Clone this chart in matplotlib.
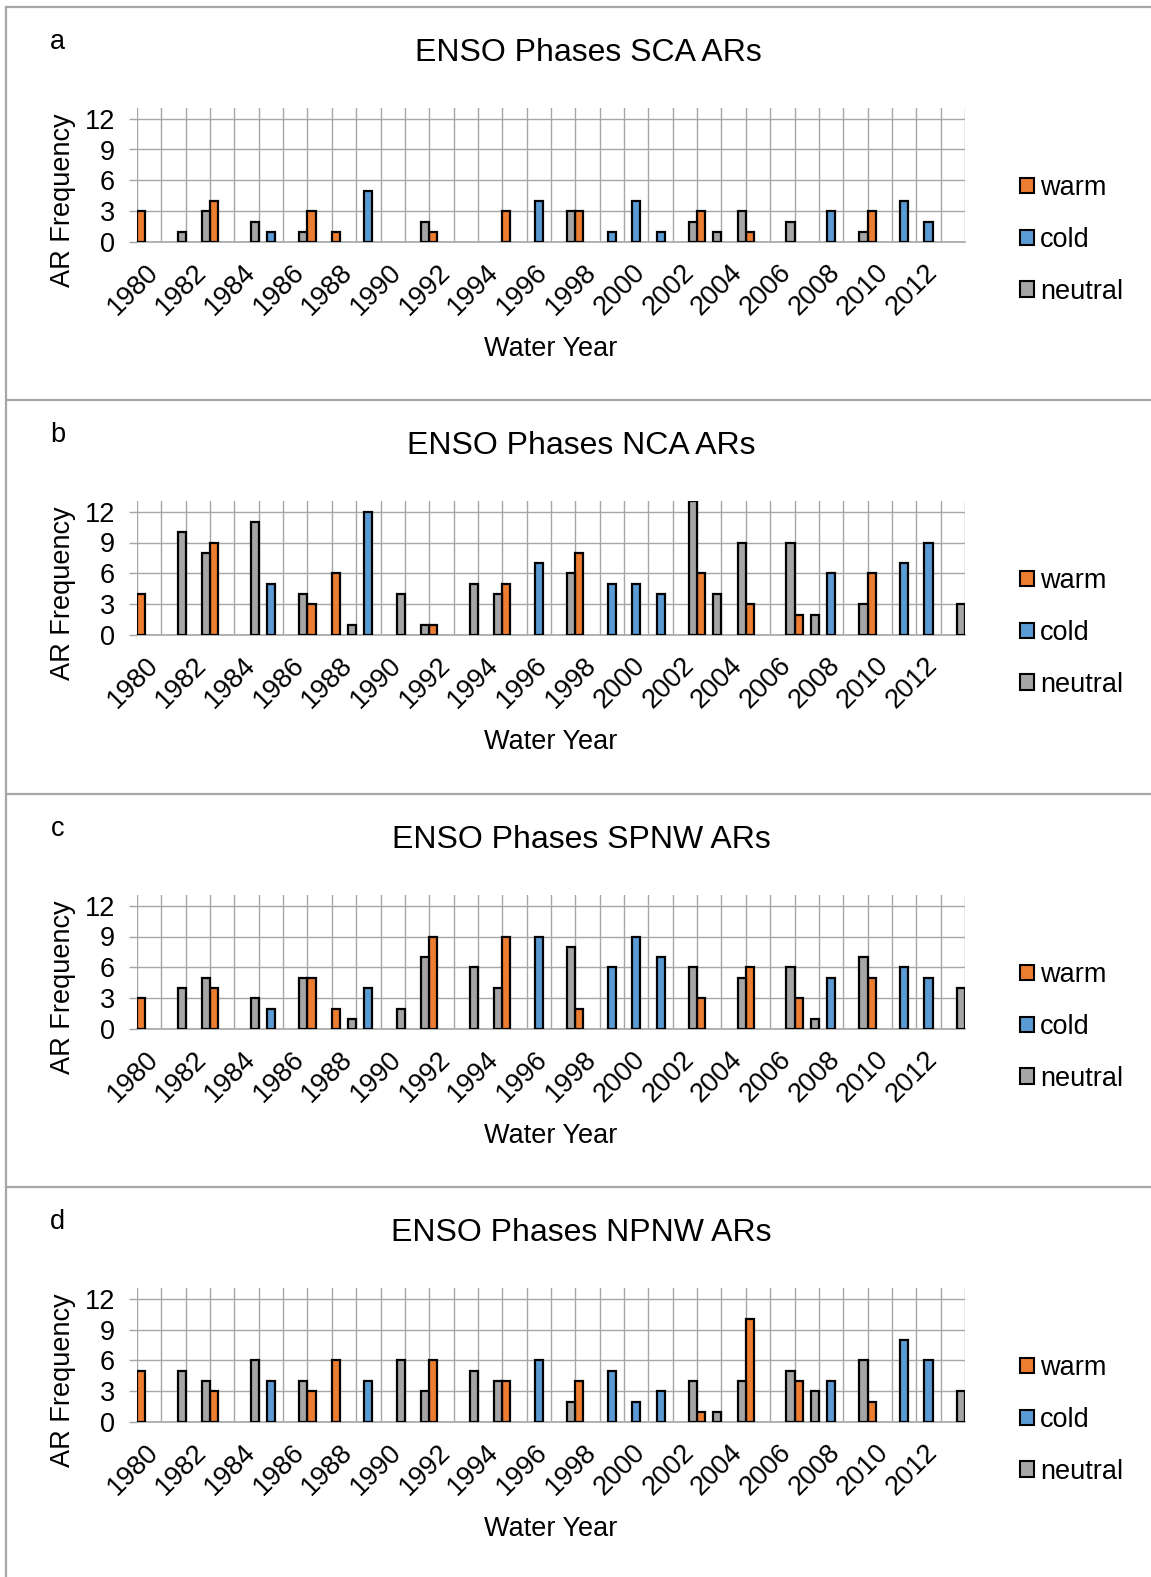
import numpy as np
import matplotlib
matplotlib.use("Agg")
import matplotlib.pyplot as plt
from matplotlib.lines import Line2D
from matplotlib.patches import Patch

plt.rcParams['font.family'] = ['Liberation Sans', 'DejaVu Sans']

# ==================================================
# DATA
# ==================================================
years = list(range(1980, 2014))

sca_warm    = [3,0,0,4,0,0,0,3,1,0, 0,0,1,0,0,3,0,0,3,0, 0,0,0,3,0,1,0,0,0,0, 3,0,0,0]
sca_cold    = [0,0,0,0,0,1,0,0,0,5, 0,0,0,0,0,0,4,0,0,1, 4,1,0,0,0,0,0,0,3,0, 0,4,2,0]
sca_neutral = [0,1,3,0,2,0,1,0,0,0, 0,2,0,0,0,0,0,3,0,0, 0,0,2,1,3,0,2,0,0,1, 0,0,0,0]

nca_warm    = [4,0,0,9,0,0,0,3,6,0, 0,0,1,0,0,5,0,0,8,0, 0,0,0,6,0,3,0,2,0,0, 6,0,0,0]
nca_cold    = [0,0,0,0,0,5,0,0,0,12, 0,0,0,0,0,0,7,0,0,5, 5,4,0,0,0,0,0,0,6,0, 0,7,9,0]
nca_neutral = [0,10,8,0,11,0,4,0,1,0, 4,1,0,5,4,0,0,6,0,0, 0,0,13,4,9,0,9,2,0,3, 0,0,0,3]

spnw_warm    = [3,0,0,4,0,0,0,5,2,0, 0,0,9,0,0,9,0,0,2,0, 0,0,0,3,0,6,0,3,0,0, 5,0,0,0]
spnw_cold    = [0,0,0,0,0,2,0,0,0,4, 0,0,0,0,0,0,9,0,0,6, 9,7,0,0,0,0,0,0,5,0, 0,6,5,0]
spnw_neutral = [0,4,5,0,3,0,5,0,1,0, 2,7,0,6,4,0,0,8,0,0, 0,0,6,0,5,0,6,1,0,7, 0,0,0,4]

npnw_warm    = [5,0,0,3,0,0,0,3,6,0, 0,0,6,0,0,4,0,0,4,0, 0,0,0,1,0,10,0,4,0,0, 2,0,0,0]
npnw_cold    = [0,0,0,0,0,4,0,0,0,4, 0,0,0,0,0,0,6,0,0,5, 2,3,0,0,0,0,0,0,4,0, 0,8,6,0]
npnw_neutral = [0,5,4,0,6,0,4,0,0,0, 6,3,0,5,4,0,0,2,0,0, 0,0,4,1,4,0,5,3,0,6, 0,0,0,3]

panels = [
    ("a", "ENSO Phases SCA ARs", sca_warm, sca_cold, sca_neutral),
    ("b", "ENSO Phases NCA ARs", nca_warm, nca_cold, nca_neutral),
    ("c", "ENSO Phases SPNW ARs", spnw_warm, spnw_cold, spnw_neutral),
    ("d", "ENSO Phases NPNW ARs", npnw_warm, npnw_cold, npnw_neutral),
]

# ==================================================
# STYLE / LAYOUT (pixels)
# ==================================================
W, H = 1151, 1577
C_WARM, C_COLD, C_NEU = "#ED7D31", "#5B9BD5", "#A5A5A5"
GRID = "#A6A6A6"
FS = 19.5

panel_tops = [7, 400, 794, 1187]
ax_left, ax_right = 137, 965
ax_h = 13 * 10.3
title_x = [588, 581, 581, 581]


def fx(px):
    return px / W


def fy(py):
    return 1 - py / H


fig = plt.figure(figsize=(W / 100, H / 100), dpi=100)

# panel frames
fig.add_artist(Line2D([fx(6), fx(6)], [fy(7), fy(H)], color=GRID, lw=1.6))
for t in panel_tops:
    fig.add_artist(Line2D([fx(6), 1], [fy(t), fy(t)], color=GRID, lw=1.6))

x = np.arange(len(years))

for i, (letter, title, warm, cold, neu) in enumerate(panels):
    top = panel_tops[i]
    bottom = top + 235.2
    ax = fig.add_axes([fx(ax_left), fy(bottom), (ax_right - ax_left) / W, ax_h / H])

    for off, vals, col in [(0, warm, C_WARM), (1 / 3, cold, C_COLD), (2 / 3, neu, C_NEU)]:
        vals = np.array(vals)
        m = vals > 0
        ax.bar(x[m] + off, vals[m], width=1 / 3, align="edge", color=col,
               edgecolor="black", linewidth=1.6, zorder=3)

    ax.set_xlim(0, len(years))
    ax.set_ylim(0, 13)
    ax.set_yticks([0, 3, 6, 9, 12])
    ax.set_xticks(np.arange(len(years) + 1), minor=True)
    ax.set_xticks(x[::2] + 0.7)
    ax.set_xticklabels([str(y) for y in years[::2]], rotation=45, ha="right",
                       rotation_mode="anchor", va="center")
    ax.tick_params(axis="x", which="both", length=0, pad=19, labelsize=FS)
    ax.tick_params(axis="y", length=6, color=GRID, width=1.0, pad=10, labelsize=FS)
    ax.grid(axis="y", which="major", color=GRID, lw=1.0, zorder=0)
    ax.grid(axis="x", which="minor", color=GRID, lw=1.0, zorder=0)
    for s in ["left", "top", "right"]:
        ax.spines[s].set_visible(False)
    ax.spines["bottom"].set_color(GRID)
    ax.spines["bottom"].set_linewidth(1.2)
    ax.set_axisbelow(True)

    fig.text(fx(57.5), fy(top + 35), letter, fontsize=FS, ha="center", va="center")
    fig.text(fx(title_x[i]), fy(top + 46), title, fontsize=23, ha="center", va="center")
    fig.text(fx(63), fy(top + 193), "AR Frequency", fontsize=FS, rotation=90,
             ha="center", va="center")
    fig.text(fx(551), fy(top + 342), "Water Year", fontsize=FS, ha="center", va="center")

    handles = [Patch(facecolor=c, edgecolor="black", linewidth=1.5) for c in (C_WARM, C_COLD, C_NEU)]
    fig.legend(handles, ["warm", "cold", "neutral"], loc="center left",
               bbox_to_anchor=(fx(1020), fy(top + 233)), frameon=False,
               fontsize=FS, handlelength=0.5, handleheight=0.5,
               handletextpad=0.25, labelspacing=0.95, borderpad=0, borderaxespad=0)

fig.savefig("out.png", dpi=100)
